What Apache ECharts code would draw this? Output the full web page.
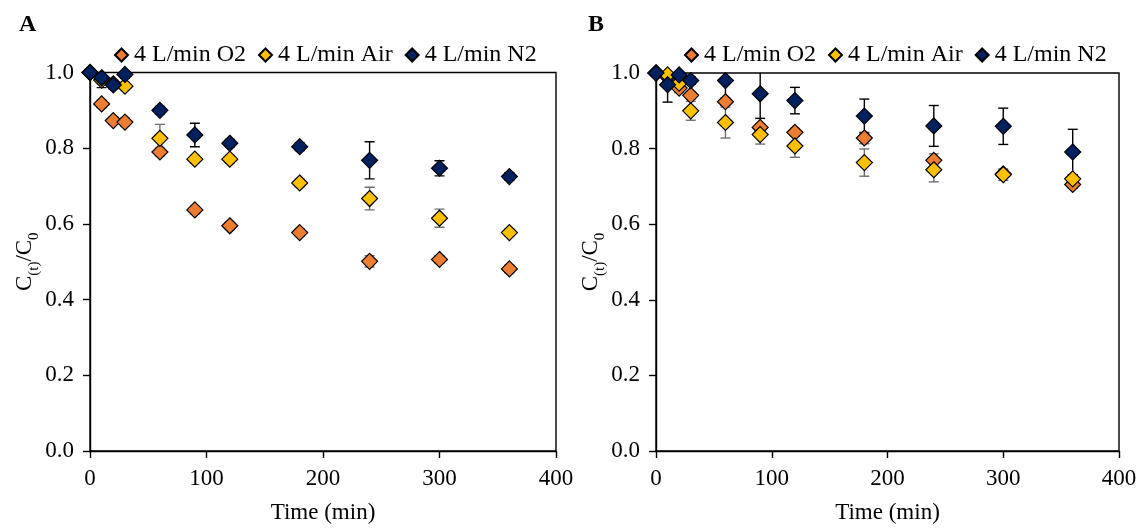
<!DOCTYPE html>
<html>
<head>
<meta charset="utf-8">
<script src="https://cdn.jsdelivr.net/npm/echarts@6/dist/echarts.min.js"></script>
<style>
  html, body { margin: 0; padding: 0; background: #fff; }
  #chart { width: 1141px; height: 529px; }
</style>
</head>
<body>
<div id="chart"></div>
<script>
// Sampling times (min)
const times = [0, 10, 20, 30, 60, 90, 120, 180, 240, 300, 360];

// Panel A: normalised concentration C(t)/C0
const aO2  = [1.0, 0.917, 0.873, 0.869, 0.790, 0.637, 0.595, 0.577, 0.501, 0.506, 0.481];
const aAir = [1.0, 0.980, 0.970, 0.964, 0.826, 0.771, 0.771, 0.708, 0.667, 0.615, 0.577];
const aN2  = [1.0, 0.986, 0.967, 0.995, 0.900, 0.835, 0.813, 0.804, 0.768, 0.747, 0.725];
// Panel A: standard deviations
const aO2Err  = [0, 0.010, 0.010, 0.010, 0.010, 0.010, 0.010, 0.010, 0.015, 0.010, 0.010];
const aAirErr = [0, 0.010, 0.010, 0.010, 0.037, 0.010, 0.010, 0.010, 0.030, 0.024, 0.010];
const aN2Err  = [0, 0.026, 0.010, 0.010, 0.010, 0.031, 0.010, 0.010, 0.049, 0.020, 0.010];

// Panel B: normalised concentration C(t)/C0
const bO2  = [1.0, 0.990, 0.960, 0.941, 0.924, 0.856, 0.843, 0.828, 0.769, 0.733, 0.705];
const bAir = [1.0, 0.995, 0.973, 0.900, 0.869, 0.837, 0.807, 0.763, 0.744, 0.731, 0.720];
const bN2  = [1.0, 0.969, 0.995, 0.980, 0.980, 0.945, 0.927, 0.886, 0.860, 0.859, 0.791];
// Panel B: standard deviations
const bO2Err  = [0, 0.010, 0.012, 0.010, 0.010, 0.010, 0.010, 0.015, 0.017, 0.010, 0.010];
const bAirErr = [0, 0.010, 0.010, 0.025, 0.041, 0.025, 0.030, 0.036, 0.032, 0.015, 0.010];
const bN2Err  = [0, 0.046, 0.010, 0.010, 0.050, 0.065, 0.035, 0.045, 0.054, 0.048, 0.060];

const seriesNames = ['4 L/min O2', '4 L/min Air', '4 L/min N2'];
const panelLabels = ['A', 'B'];
const xTicks = [0, 100, 200, 300, 400];
const yTicks = [0, 0.2, 0.4, 0.6, 0.8, 1.0];

const colors = ['#ED7D31', '#FFC000', '#002060'];
const errColors = ['#6e6e6e', '#6e6e6e', '#000000'];
const FONT = '"Liberation Serif", "Times New Roman", serif';
const FS = 23;

const chart = echarts.init(document.getElementById('chart'), null, { renderer: 'canvas' });

function pairs(vals) { return times.map((t, i) => [t, vals[i]]); }
function errTriples(vals, errs) { return times.map((t, i) => [t, vals[i], errs[i]]); }

// Vertical error bar with caps, drawn under its own markers
function errorSeries(name, idx, vals, errs, color) {
  return {
    type: 'custom',
    name: name + ' SD',
    xAxisIndex: idx, yAxisIndex: idx,
    clip: true,
    silent: true,
    data: errTriples(vals, errs),
    renderItem: function (params, api) {
      const x = api.value(0), y = api.value(1), e = api.value(2);
      if (!e) return null;
      const top = api.coord([x, y + e]);
      const bot = api.coord([x, y - e]);
      const w = 5;
      const st = { stroke: color, lineWidth: 1.4 };
      return {
        type: 'group',
        children: [
          { type: 'line', shape: { x1: top[0], y1: top[1], x2: bot[0], y2: bot[1] }, style: st },
          { type: 'line', shape: { x1: top[0] - w, y1: top[1], x2: top[0] + w, y2: top[1] }, style: st },
          { type: 'line', shape: { x1: bot[0] - w, y1: bot[1], x2: bot[0] + w, y2: bot[1] }, style: st }
        ]
      };
    }
  };
}

function pointSeries(name, idx, vals, color) {
  return {
    type: 'scatter',
    name: name,
    xAxisIndex: idx, yAxisIndex: idx,
    symbol: 'diamond',
    symbolSize: 16,
    itemStyle: { color: color, borderColor: '#000', borderWidth: 1.2, opacity: 1 },
    data: pairs(vals)
  };
}

const panels = [
  { vals: [aO2, aAir, aN2], errs: [aO2Err, aAirErr, aN2Err] },
  { vals: [bO2, bAir, bN2], errs: [bO2Err, bAirErr, bN2Err] }
];

const series = [];
panels.forEach((p, idx) => {
  for (let k = 0; k < 3; k++) {
    series.push(errorSeries(seriesNames[k], idx, p.vals[k], p.errs[k], errColors[k]));
    series.push(pointSeries(seriesNames[k], idx, p.vals[k], colors[k]));
  }
});

const grids = [
  { left: 90, top: 72.5, right: 585, bottom: 71.5 },
  { left: 656, top: 73, right: 22, bottom: 71 }
];

function xAxis(idx) {
  return {
    type: 'value', gridIndex: idx,
    min: xTicks[0], max: xTicks[xTicks.length - 1], interval: 100,
    name: 'Time (min)', nameLocation: 'middle', nameGap: 50,
    nameTextStyle: { fontFamily: FONT, fontSize: FS, color: '#000' },
    axisLine: { show: true, lineStyle: { color: '#000', width: 1.4 } },
    axisTick: { show: true, length: 7, inside: false, lineStyle: { color: '#000', width: 1.4 } },
    axisLabel: { fontFamily: FONT, fontSize: FS, color: '#000', margin: 16 },
    splitLine: { show: false }
  };
}

function yAxis(idx) {
  return {
    type: 'value', gridIndex: idx,
    min: yTicks[0], max: yTicks[yTicks.length - 1], interval: 0.2,
    name: '{c|C}{s|(t)}{c|/C}{s|0}', nameLocation: 'middle', nameGap: 47, nameRotate: 90,
    nameTextStyle: {
      fontFamily: FONT, fontSize: FS, color: '#000',
      rich: {
        c: { fontFamily: FONT, fontSize: FS, color: '#000', lineHeight: 28, verticalAlign: 'top' },
        s: { fontFamily: FONT, fontSize: 15, color: '#000', lineHeight: 28, verticalAlign: 'bottom' }
      }
    },
    axisLine: { show: true, lineStyle: { color: '#000', width: 1.4 } },
    axisTick: { show: true, length: 7, inside: false, lineStyle: { color: '#000', width: 1.4 } },
    axisLabel: {
      fontFamily: FONT, fontSize: FS, color: '#000', margin: 16,
      formatter: v => v.toFixed(1)
    },
    splitLine: { show: false }
  };
}

function legend(left) {
  return {
    left: left, top: 38,
    data: seriesNames,
    icon: 'diamond',
    itemWidth: 13, itemHeight: 13, itemGap: 12,
    textStyle: { fontFamily: FONT, fontSize: 24, color: '#000', padding: [0, 0, 0, 1] },
    selectedMode: false
  };
}

chart.setOption({
  backgroundColor: '#fff',
  animation: false,
  grid: grids.map(g => Object.assign({ show: true, borderColor: '#000', borderWidth: 1.4, backgroundColor: 'transparent' }, g)),
  xAxis: [xAxis(0), xAxis(1)],
  yAxis: [yAxis(0), yAxis(1)],
  legend: [legend(109), legend(679)],
  graphic: [
    { type: 'text', left: 19, top: 13, style: { text: panelLabels[0], font: 'bold 24px ' + FONT, fill: '#000' } },
    { type: 'text', left: 588, top: 13, style: { text: panelLabels[1], font: 'bold 24px ' + FONT, fill: '#000' } }
  ],
  series: series
});
</script>
</body>
</html>
